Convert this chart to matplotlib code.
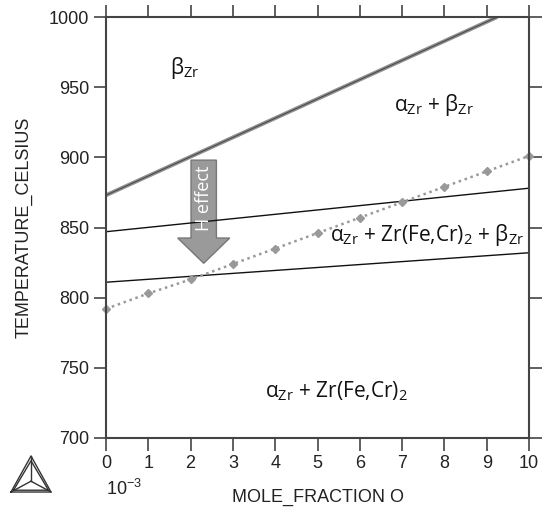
import numpy as np
import matplotlib.pyplot as plt
from matplotlib.patches import FancyArrow

plt.rcParams['font.family'] = ['Liberation Sans', 'DejaVu Sans']
plt.rcParams['mathtext.fontset'] = 'custom'
plt.rcParams['mathtext.rm'] = 'Open Sans'
plt.rcParams['mathtext.it'] = 'Open Sans:italic'

# phase boundaries (mole fraction O in 1e-3, temperature in C)
beta_x = [0, 9.25]
beta_t = [873, 1000]
upper_x = [0, 10]
upper_t = [847, 878]
lower_x = [0, 10]
lower_t = [811, 832]
# dotted boundary with diamond markers
dot_x = [0, 1, 2, 3, 4, 5, 6, 7, 8, 9, 10]
dot_t = [792, 803, 813, 824, 835, 846, 857, 868, 879, 890, 901]

xticks = [0, 1, 2, 3, 4, 5, 6, 7, 8, 9, 10]
yticks = [700, 750, 800, 850, 900, 950, 1000]

fig = plt.figure(figsize=(5.44, 5.07), dpi=100)
ax = fig.add_axes([106/544, 1-438/507, 423/544, 421/507])

ax.plot(beta_x, beta_t, color='#8f8f8f', lw=2.8, solid_capstyle='butt')
ax.plot(beta_x, beta_t, color='#444444', lw=0.7)
ax.plot(upper_x, upper_t, color='#111111', lw=1.0)
ax.plot(lower_x, lower_t, color='#111111', lw=1.0)
ax.plot(dot_x, dot_t, color='#999999', lw=1.8, ls=(0, (1, 1.5)),
        marker='D', ms=4.5, mfc='#999999', mec='#999999', clip_on=False)

ax.add_patch(FancyArrow(2.31, 898, 0, -73.5, width=0.6, head_width=1.23,
                        head_length=18, length_includes_head=True,
                        fc='#9a9a9a', ec='#777777', lw=1))
ax.text(2.31, 871, 'H effect', rotation=90, color='white', fontsize=13,
        ha='center', va='center', family='Open Sans')

lab = dict(fontsize=15, family='Open Sans', color='#111111', ha='center', va='center')
ax.text(1.87, 964, r'β$_{\mathrm{Zr}}$', **lab)
ax.text(7.75, 937, r'α$_{\mathrm{Zr}}$ + β$_{\mathrm{Zr}}$', **lab)
ax.text(7.6, 845, r'α$_{\mathrm{Zr}}$ + Zr(Fe,Cr)$_{\mathrm{2}}$ + β$_{\mathrm{Zr}}$', **lab)
ax.text(5.45, 733, r'α$_{\mathrm{Zr}}$ + Zr(Fe,Cr)$_{\mathrm{2}}$', **lab)

ax.set_xlim(0, 10)
ax.set_ylim(700, 1000)
ax.set_xticks(xticks)
ax.set_yticks(yticks)
ax.tick_params(direction='out', length=9, width=1.2, color='#444444',
               labelsize=13, labelcolor='#222222', top=True, right=True,
               labeltop=False, labelright=False, pad=3)
for s in ax.spines.values():
    s.set_color('#444444')
    s.set_linewidth(1.5)

ax.set_xlabel('MOLE_FRACTION O', fontsize=13, color='#222222', labelpad=12)
ax.set_ylabel('TEMPERATURE_CELSIUS', fontsize=13, color='#222222', labelpad=12)
fig.text(124/544, 1-489/507, r'10$^{\mathregular{-3}}$', fontsize=13, color='#222222',
         ha='center', va='center')

# Thermo-Calc style triangle logo
lg = fig.add_axes([6/544, 1-510/507, 50/544, 60/507])
lg.set_xlim(0, 1)
lg.set_ylim(0, 1)
lg.axis('off')
tri = np.array([[0.1, 0.3], [0.9, 0.3], [0.5, 0.9], [0.1, 0.3]])
for k in [0, 0.05]:
    sh = np.array([[0.1+k, 0.3+k*0.6], [0.9-k, 0.3+k*0.6], [0.5, 0.9-k*1.6], [0.1+k, 0.3+k*0.6]])
    lg.plot(sh[:, 0], sh[:, 1], color='#333333', lw=1.0)
c = (0.5, 0.48)
for p in tri[:3]:
    lg.plot([c[0], p[0]], [c[1], p[1]], color='#333333', lw=1.0)

fig.savefig('out.png', dpi=100)
